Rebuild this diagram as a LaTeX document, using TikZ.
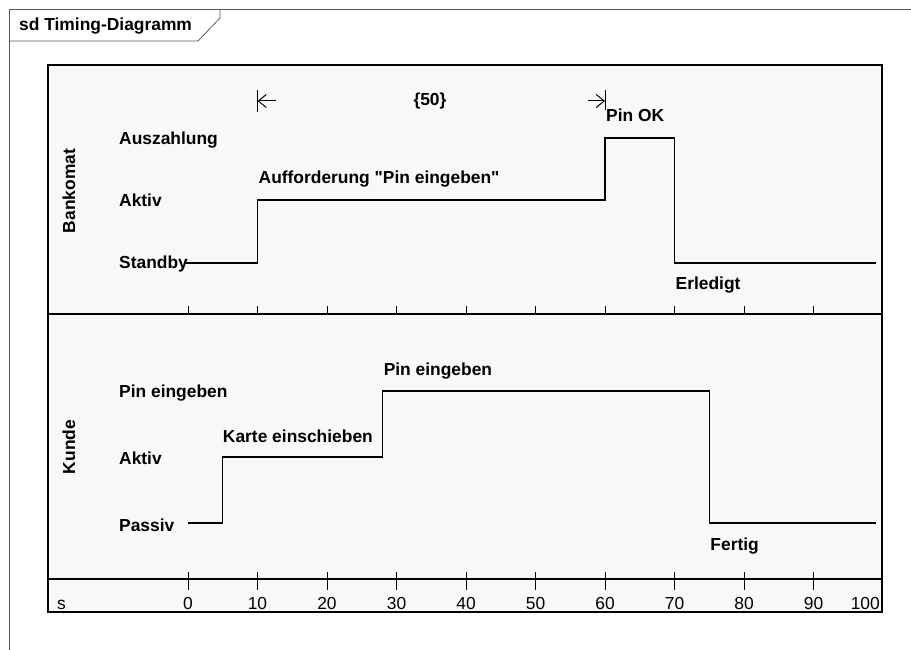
\documentclass[tikz,border=0pt]{standalone}
\usepackage{fontspec}
\setmainfont{Liberation Sans}
\usepackage{xcolor}
\usepackage{tikz}
\usetikzlibrary{positioning, arrows.meta}
\definecolor{laneBg}{HTML}{F8F8F8}
\definecolor{frameG}{HTML}{5A5A5A}

\begin{document}
\begin{tikzpicture}[x=1pt, y=-1pt, font=\fontsize{17.4}{19}\selectfont,
  lbl/.style={font=\fontsize{17.4}{19}\selectfont\bfseries, inner sep=0pt, anchor=base west},
  num/.style={inner sep=0pt, anchor=base},
  wave/.style={line width=1.4pt},
  dimln/.style={line width=1pt}]
  \useasboundingbox (0,0) rectangle (911,650);
  \def\tz{188}   % x of t = 0
  \def\tu{6.95}  % px per time unit
  \def\bHi{138} \def\bMid{200} \def\bLo{263}   % Bankomat levels
  \def\kHi{391} \def\kMid{457} \def\kLo{523}   % Kunde levels
  % outer frame
  \fill[white] (0,0) rectangle (911,650);
  \draw[frameG, line width=0.8pt] (911,9) -- (9,9) -- (9,650);
  \draw[frameG, line width=0.8pt] (9,41) -- (198,41) -- (220,18) -- (220,9);
  \node[lbl] (title) at (19,31) {sd Timing-Diagramm};
  % lanes
  \fill[laneBg] (48,65) rectangle (882,612);
  \draw[line width=1.2pt] (48,314) -- (882,314);
  \draw[line width=1.2pt] (48,579) -- (882,579);
  \draw[line width=1.2pt] (48,65) rectangle (882,612);
  \node[lbl, rotate=90, anchor=base] (bank) at (75,191) {Bankomat};
  \node[lbl, rotate=90, anchor=base] (kunde) at (75,447) {Kunde};
  % time axis
  \foreach \t in {0,10,...,90}{
     \draw[line width=1pt] (\tz+\t*\tu,306) -- (\tz+\t*\tu,314);
     \draw[line width=1pt] (\tz+\t*\tu,572) -- (\tz+\t*\tu,590);
     \node[num] (n\t) at (\tz+\t*\tu,609) {\t};
  }
  \node[num, anchor=base east] (n100) at (880,609) {100};
  \node[num, anchor=base west] (unit) at (57,609) {s};
  % Bankomat states
  \node[lbl] (bAus) at (119,\bHi+7) {Auszahlung};
  \node[lbl] (bAkt) at (119,\bMid+7) {Aktiv};
  \node[lbl] (bSta) at (119,\bLo+6) {Standby};
  \draw[wave] (\tz-2,\bLo) -| (\tz+10*\tu,\bMid) -| (\tz+60*\tu,\bHi)
     -| (\tz+70*\tu,\bLo) -- (\tz+99*\tu,\bLo);
  \node[lbl] (bAuf) at (\tz+10*\tu+1,\bMid-16)
     {Aufforderung \textquotedbl Pin eingeben\textquotedbl};
  \node[lbl] (bPin) at (\tz+60*\tu+1,\bHi-16) {Pin OK};
  \node[lbl] (bErl) at (\tz+70*\tu+1,\bLo+26) {Erledigt};
  % Kunde states
  \node[lbl] (kPin) at (119,\kHi+6) {Pin eingeben};
  \node[lbl] (kAkt) at (119,\kMid+7) {Aktiv};
  \node[lbl] (kPas) at (119,\kLo+8) {Passiv};
  \draw[wave] (\tz,\kLo) -| (\tz+5*\tu,\kMid) -| (\tz+28*\tu,\kHi)
     -| (\tz+75*\tu,\kLo) -- (\tz+99*\tu,\kLo);
  \node[lbl] (kKar) at (\tz+5*\tu,\kMid-15) {Karte einschieben};
  \node[lbl] (kEin) at (\tz+28*\tu+1,\kHi-16) {Pin eingeben};
  \node[lbl] (kFer) at (\tz+75*\tu+1,\kLo+27) {Fertig};
  % duration constraint
  \coordinate (d0) at (\tz+10*\tu,101);
  \coordinate (d1) at (\tz+60*\tu,101);
  \draw[dimln] ([yshift=11pt]d0) -- ([yshift=-11pt]d0);
  \draw[dimln] ([yshift=11pt]d1) -- ([yshift=-9pt]d1);
  \draw[dimln, {Straight Barb[length=8pt, width=13pt]}-] (d0) -- ++(18,0);
  \draw[dimln, -{Straight Barb[length=8pt, width=13pt]}] ([xshift=-17pt]d1) -- (d1);
  \node[lbl, anchor=center] (dur) at (430,101) {\{50\}};
\end{tikzpicture}
\end{document}
